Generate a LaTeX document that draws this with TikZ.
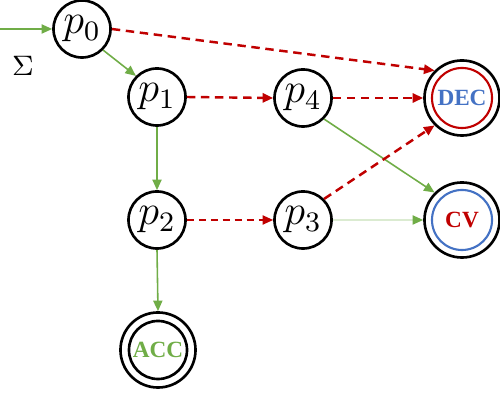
\documentclass[tikz,border=0pt]{standalone}
\usepackage{amsmath,amssymb}
\usepackage{fontspec}
\newfontfamily\finalfont{Liberation Serif}
\usepackage{tikz}
\usetikzlibrary{arrows.meta}
\definecolor{green}{HTML}{70AD47}
\definecolor{red}{HTML}{C00000}
\definecolor{blue}{HTML}{4472C4}

\begin{document}
\begin{tikzpicture}[x=0.01cm, y=-0.01cm,
        state/.style={circle, draw, line width=0.75pt, minimum size=0.57cm,
                      inner sep=0pt, font=\large},
        final/.style={circle, draw, line width=0.75pt, minimum size=0.75cm,
                      inner sep=0pt, font=\finalfont\fontsize{6.6}{7}\selectfont\bfseries},
        ok/.style={green, line width=0.45pt,
                   -{Triangle[length=3pt,width=2.6pt]}},
        bad/.style={red, line width=0.7pt, dash pattern=on 2.4pt off 1.6pt,
                    -{Triangle[length=3pt,width=2.6pt]}},
      ]
        \useasboundingbox (0,0) rectangle (500,416);

        % Ordinary states
        \node[state] (p0) at (82,29) {$p_0$};
        \node[state] (p1) at (157,97) {$p_1$};
        \node[state] (p2) at (157,220) {$p_2$};
        \node[state] (p3) at (303,220) {$p_3$};
        \node[state] (p4) at (303,98) {$p_4$};

        % Final states — double circles
        \node[final, text=blue] (dec) at (462,98) {DEC};
        \draw[red, line width=0.6pt] (dec.center) circle (0.3cm);
        \node[final, text=red] (cv) at (462,220) {CV};
        \draw[blue, line width=0.6pt] (cv.center) circle (0.3cm);
        \node[final, text=green] (acc) at (158,350) {ACC};
        \draw[line width=0.75pt] (acc.center) circle (0.29cm);

        % Entry arrow and alphabet
        \coordinate (start) at (0,29);
        \node[font=\footnotesize] (sigma) at (23,66) {$\Sigma$};
        \draw[ok] (start) -- (p0.west);

        % Accepted moves
        \draw[ok] (p0.-45) -- (p1.135);
        \draw[ok] (p1.south) -- (p2.north);
        \draw[ok] (p2.south) -- (acc.north);
        \draw[ok] (p4.-45) -- (cv.135);
        \draw[green!25, line width=0.45pt,
              -{Triangle[length=3pt,width=2.6pt,color=green]}] (p3.east) -- (cv.west);

        % Rejected moves
        \draw[bad] (p0.east) -- (dec.135);
        \draw[bad] (p1.east) -- (p4.west);
        \draw[bad] (p4.east) -- (dec.west);
        \draw[bad] (p3.45) -- (dec.225);
        \draw[bad, line width=0.45pt, dash pattern=on 2pt off 1.4pt] (p2.east) -- (p3.west);
      \end{tikzpicture}
\end{document}
